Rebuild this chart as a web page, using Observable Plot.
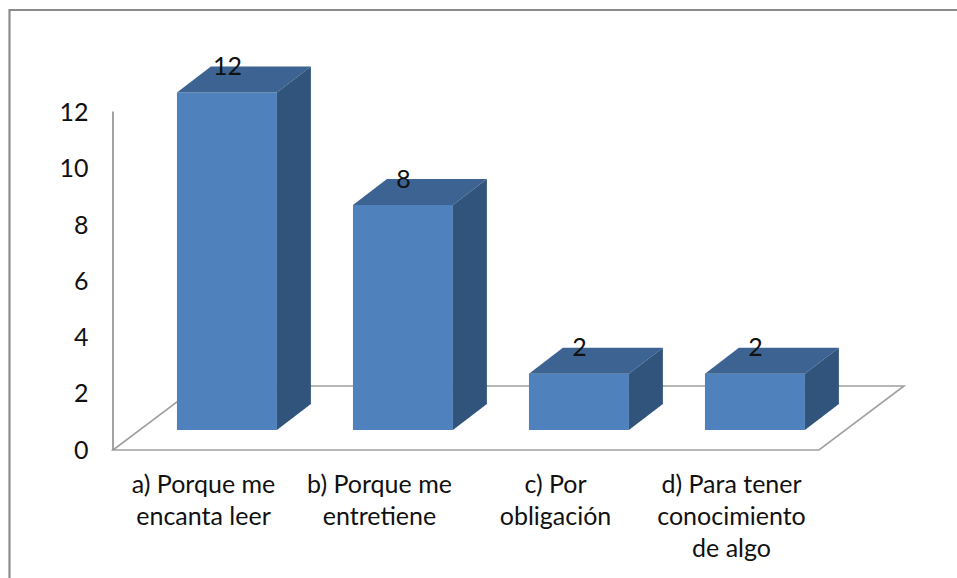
<!DOCTYPE html>
<html>
<head>
<meta charset="utf-8">
<script src="https://cdn.jsdelivr.net/npm/d3@7"></script>
<script src="https://cdn.jsdelivr.net/npm/@observablehq/plot@0.6"></script>
<style>
  html, body { margin: 0; padding: 0; background: #fff; }
  #chart { width: 957px; height: 578px; overflow: hidden; }
</style>
</head>
<body>
<div id="chart"></div>
<script>
// ---- data ----
const categories = [
  "a) Porque me\nencanta leer",
  "b) Porque me\nentretiene",
  "c) Por\nobligación",
  "d) Para tener\nconocimiento\nde algo"
];
const values = [12, 8, 2, 2];
const yTicks = [0, 2, 4, 6, 8, 10, 12];

const data = categories.map((c, i) => ({category: c, value: values[i]}));

// ---- styles ----
const FRONT = "#4F81BD", TOP = "#3C6391", SIDE = "#31547C";

function bars3d(index, scales, vals, dims) {
  const {x, y} = scales;
  const step = x(categories[1]) - x(categories[0]);
  const x0 = dims.marginLeft, x1 = dims.width - dims.marginRight;
  const y0 = y(0);
  const fdx = step * 0.483, fdy = -64;        // floor depth
  const bOff = step * 0.148, bW = step * 0.568; // front face left offset from category centre & width
  const lift = 20;                            // bars sit back in depth
  const ddx = step * 0.193, ddy = -26;        // bar depth
  const g = d3.create("svg:g");
  // outer chart border
  g.append("path")
    .attr("d", `M9.5,${dims.height + 5}V10H${dims.width + 5}`)
    .attr("fill", "none").attr("stroke", "#8c8c8c").attr("stroke-width", 2.2);
  // floor
  g.append("path")
    .attr("d", `M${x0 - 2},${y0}L${x1},${y0}L${x1 + fdx},${y0 + fdy}L${x0 - 2 + fdx},${y0 + fdy}Z`)
    .attr("fill", "none").attr("stroke", "#a0a0a0").attr("stroke-width", 1.6);
  // vertical axis line
  g.append("line")
    .attr("x1", x0 - 2).attr("x2", x0 - 2)
    .attr("y1", y(yTicks[yTicks.length - 1]) - 1).attr("y2", y0)
    .attr("stroke", "#8c8c8c").attr("stroke-width", 1.6);
  data.forEach(d => {
    const c = x(d.category);
    const xl = c - bOff, xr = xl + bW;
    const yb = y(0) - lift, yt = y(d.value) - lift;
    g.append("rect").attr("x", xl).attr("y", yt).attr("width", bW).attr("height", yb - yt)
      .attr("fill", FRONT);
    g.append("path")
      .attr("d", `M${xl},${yt}L${xr},${yt}L${xr + ddx},${yt + ddy}L${xl + ddx},${yt + ddy}Z`)
      .attr("fill", TOP);
    g.append("path")
      .attr("d", `M${xr},${yt}L${xr + ddx},${yt + ddy}L${xr + ddx},${yb + ddy}L${xr},${yb}Z`)
      .attr("fill", SIDE);
  });
  return g.node();
}

const chart = Plot.plot({
  width: 957,
  height: 578,
  marginLeft: 115,
  marginRight: 138,
  marginTop: 112.5,
  marginBottom: 128,
  style: {fontFamily: "Lato, sans-serif", fontSize: "25px", color: "#111", background: "#fff"},
  x: {type: "point", domain: categories, padding: 0.5, axis: null},
  y: {domain: [0, 12], ticks: yTicks, tickSize: 0, tickPadding: 27, label: null},
  marks: [
    bars3d,
    Plot.text(data, {
      x: "category", y: "value", text: d => String(d.value),
      dx: 24, dy: -46, fill: "#111", fontSize: 25
    }),
    Plot.text(data, {
      x: "category", y: () => 0, text: "category",
      lineAnchor: "top", lineHeight: 1.28, dy: 20, fill: "#111", fontSize: 25
    })
  ]
});
document.getElementById("chart").appendChild(chart);
</script>
</body>
</html>
